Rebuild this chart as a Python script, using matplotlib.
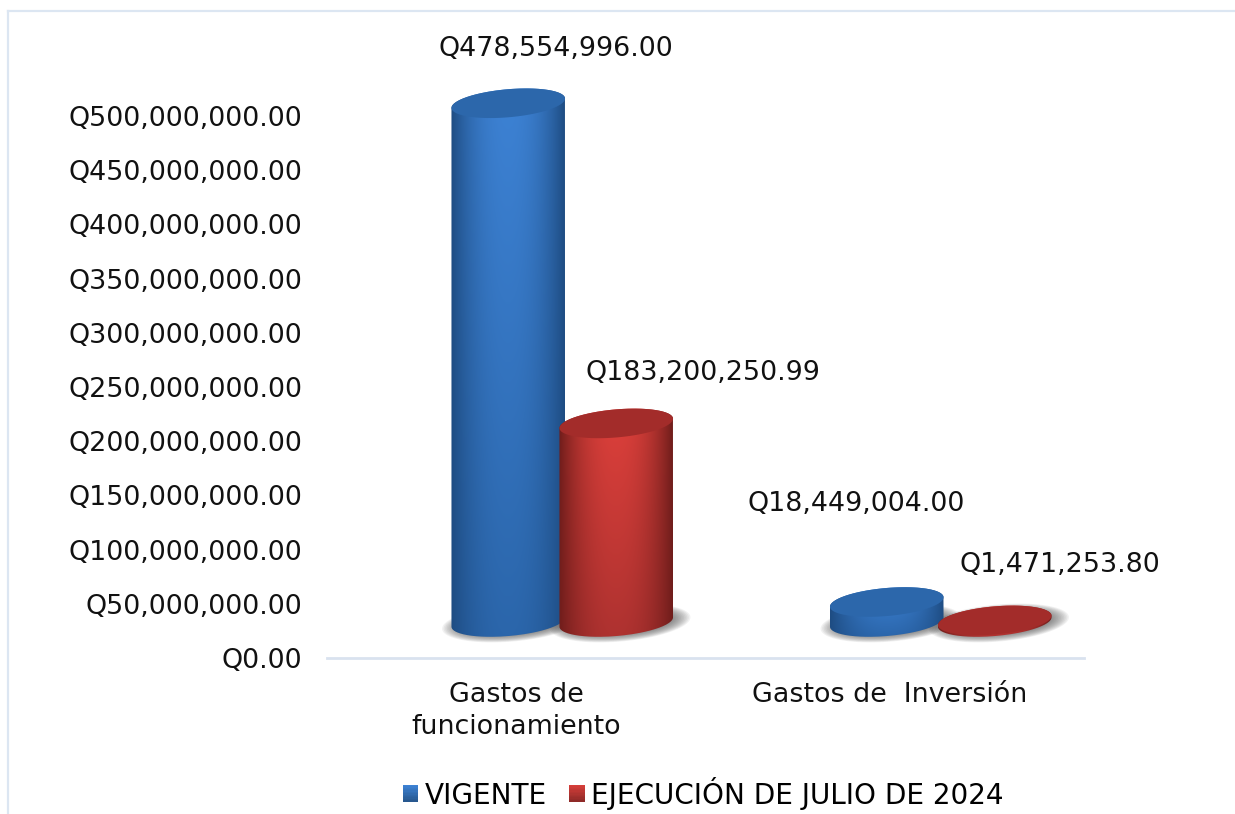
"""
Presupuesto vigente y ejecucion a julio 2024, cilindros con aspecto 3D
"""
import numpy as np
import matplotlib
matplotlib.use("Agg")
import matplotlib.pyplot as plt
from matplotlib.legend_handler import HandlerBase
from matplotlib.patches import Patch, PathPatch, Polygon, Rectangle
from matplotlib.path import Path
from matplotlib.ticker import FuncFormatter
from matplotlib.transforms import ScaledTranslation

categories = ["Gastos de\nfuncionamiento", "Gastos de  Inversión"]
series_names = ["VIGENTE", "EJECUCIÓN DE JULIO DE 2024"]
vigente = [478554996.00, 18449004.00]
ejecucion = [183200250.99, 1471253.80]
y_ticks = [0, 50e6, 100e6, 150e6, 200e6, 250e6, 300e6, 350e6, 400e6, 450e6, 500e6]

W, H = 1235, 814
FONT = 19.4

# colours per series: centre top, centre bottom, edge, top face
BLUE = ("#3d82d4", "#2b66ab", "#1e4c82", "#2c67ab")
RED = ("#dd403b", "#ae3230", "#6f1d1b", "#a32c2a")

fig = plt.figure(figsize=(W / 100, H / 100), dpi=100)
left, right, top, bottom = 327, 1084, 116, 658
ax = fig.add_axes([left / W, 1 - bottom / H, (right - left) / W, (bottom - top) / H])
ax.patch.set_alpha(0)

XLIM = (-0.5, 1.5)
YLIM = (0, 500e6)
x_scale = (right - left) / (XLIM[1] - XLIM[0])  # pixels per category
y_scale = (bottom - top) / YLIM[1]  # pixels per quetzal

# the 3D look lifts the base of the bars above the axis and shifts them sideways
DEPTH_Y = 36 / y_scale
SEMI_A, SEMI_B = 57, 14
TILT = np.radians(5)


def ellipse(cx, cy, a=SEMI_A, b=SEMI_B, t0=0, t1=2 * np.pi, n=90):
    """
    Points of a tilted ellipse, sizes in pixels and centre in data units
    """
    t = np.linspace(t0, t1, n)
    dx = a * np.cos(t) * np.cos(TILT) - b * np.sin(t) * np.sin(TILT)
    dy = a * np.cos(t) * np.sin(TILT) + b * np.sin(t) * np.cos(TILT)
    return np.column_stack([cx + dx / x_scale, cy + dy / y_scale])


def draw_shadow(cx, base):
    # stacked transparent ellipses make a soft shadow around the base
    for k in range(14):
        grow = 1 - k / 14
        pts = ellipse(cx + 4 / x_scale, base - 1 / y_scale,
                      a=SEMI_A * 0.85 + 22 * grow, b=SEMI_B * 0.75 + 8 * grow)
        ax.add_patch(Polygon(pts, closed=True, fc="#555555", ec="none", alpha=0.08,
                             zorder=1, clip_on=False))


def draw_cylinder(cx, value, colours, z):
    base = DEPTH_Y
    lid = DEPTH_Y + value
    c_top, c_bot, c_edge, c_face = [np.array(matplotlib.colors.to_rgb(c)) for c in colours]

    # body outline: lower half of base ellipse, upper half of top ellipse
    lower = ellipse(cx, base, t0=np.pi, t1=2 * np.pi)
    upper = ellipse(cx, lid, t0=0, t1=np.pi)
    body = np.vstack([lower, upper, lower[:1]])

    # shaded side, dark on the edges and light in the middle
    u = np.linspace(-1, 1, 200)
    v = np.linspace(0, 1, 200)
    uu, vv = np.meshgrid(u, v)
    mid = c_top[None, None, :] * (1 - vv[..., None]) + c_bot[None, None, :] * vv[..., None]
    s = (np.abs(uu) ** 2.2)[..., None]
    img = mid * (1 - s) + c_edge[None, None, :] * s

    x0, x1 = body[:, 0].min(), body[:, 0].max()
    y0, y1 = body[:, 1].min(), body[:, 1].max()
    im = ax.imshow(img, extent=(x0, x1, y0, y1), origin="upper", aspect="auto", zorder=z)
    im.set_clip_path(PathPatch(Path(body), transform=ax.transData))
    im.set_clip_box(fig.bbox)  # the tall bar goes above the last tick

    ax.add_patch(Polygon(ellipse(cx, lid), closed=True, fc=c_face, ec="none",
                         zorder=z + 0.1, clip_on=False))


class GradientSquare(HandlerBase):
    """
    Legend key that goes from light at the top to dark at the bottom
    """
    def create_artists(self, legend, orig, xd, yd, width, height, fontsize, trans):
        c_top, c_bot = orig.colours
        c_top = np.array(matplotlib.colors.to_rgb(c_top))
        c_bot = np.array(matplotlib.colors.to_rgb(c_bot))
        strips = []
        n = 12
        for k in range(n):
            f = k / (n - 1)
            strips.append(Rectangle((-xd, -yd + height * (n - 1 - k) / n), width, height / n + 0.3,
                                    fc=c_top * (1 - f) + c_bot * f, ec="none", transform=trans))
        return strips


# bar centres relative to their category, in category units
blue_x = [i - 8 / x_scale for i in range(len(categories))]
red_x = [i + 100 / x_scale for i in range(len(categories))]

for i in range(len(categories)):
    draw_shadow(blue_x[i], DEPTH_Y)
    draw_shadow(red_x[i], DEPTH_Y)
    draw_cylinder(blue_x[i], vigente[i], BLUE, 3 + i)
    draw_cylinder(red_x[i], ejecucion[i], RED, 3.5 + i)

# value labels, offset in pixels from the top of each bar
offsets_blue = [(48, 54), (-31, 98)]
offsets_red = [(87, 50), (65, 55)]
for i in range(len(categories)):
    for xs, vals, offs in ((blue_x, vigente, offsets_blue), (red_x, ejecucion, offsets_red)):
        ax.annotate("Q{:,.2f}".format(vals[i]), xy=(xs[i], vals[i] + DEPTH_Y),
                    xytext=(offs[i][0] * 0.72, offs[i][1] * 0.72), textcoords="offset points",
                    ha="center", va="center", fontsize=FONT, color="#111111",
                    annotation_clip=False, zorder=10)

# axes
ax.set_xlim(*XLIM)
ax.set_ylim(*YLIM)
ax.set_yticks(y_ticks)
ax.yaxis.set_major_formatter(FuncFormatter(lambda v, p: "Q{:,.2f}".format(v)))
ax.set_xticks(range(len(categories)))
ax.set_xticklabels(categories, linespacing=1.3)
ax.tick_params(axis="y", length=0, pad=18, labelsize=FONT, labelcolor="#111111")
ax.tick_params(axis="x", length=0, pad=17, labelsize=FONT, labelcolor="#111111")
for side in ["top", "right", "left"]:
    ax.spines[side].set_visible(False)
ax.spines["bottom"].set_color("#d9e2ef")
ax.spines["bottom"].set_linewidth(2)

# second category label sits a little left of its slot
lab = ax.get_xticklabels()[1]
lab.set_transform(lab.get_transform() + ScaledTranslation(-5 / 100, 0, fig.dpi_scale_trans))

# legend
key_blue = Patch(label=series_names[0])
key_blue.colours = ("#3d82d4", "#27588f")
key_red = Patch(label=series_names[1])
key_red.colours = ("#d63f3a", "#8f2a28")
fig.legend(handles=[key_blue, key_red], handler_map={Patch: GradientSquare()},
           loc="center", bbox_to_anchor=(703 / W, 1 - 793 / H), ncol=2,
           frameon=False, fontsize=20.1, handlelength=0.56, handleheight=0.56,
           handletextpad=0.22, columnspacing=0.8, borderpad=0)

# thin frame of the pasted picture, top and left only
fig.add_artist(plt.Line2D([8 / W, 8 / W], [0, 1 - 11 / H], color="#dce6f2", lw=1.6))
fig.add_artist(plt.Line2D([8 / W, 1], [1 - 11 / H, 1 - 11 / H], color="#dce6f2", lw=1.6))

fig.savefig("out.png", dpi=100)
